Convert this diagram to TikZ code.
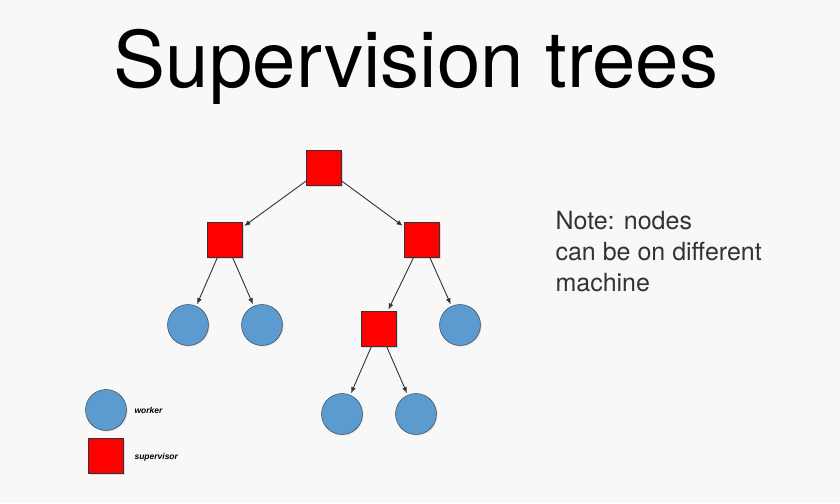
\documentclass[tikz,border=0pt]{standalone}
\usepackage{fontspec}
\setmainfont{TeX Gyre Heros}
\newfontfamily\legendfont{Liberation Sans}
\usepackage{xcolor}
\usetikzlibrary{shadows,arrows.meta}
\definecolor{bgcol}{HTML}{F8F8F8}
\definecolor{supred}{HTML}{FF0000}
\definecolor{workblue}{HTML}{5B9BD0}
\definecolor{notegray}{HTML}{333333}

\begin{document}
\begin{tikzpicture}[x=1pt,y=-1pt,
  sup/.style={draw=black!80,fill=supred,minimum size=35pt,inner sep=0pt,
    drop shadow={opacity=0.25,shadow xshift=1pt,shadow yshift=-1pt}},
  wrk/.style={circle,draw=black!80,fill=workblue,minimum size=41pt,inner sep=0pt,
    drop shadow={opacity=0.25,shadow xshift=1pt,shadow yshift=-1pt}},
  link/.style={-{Latex[length=6pt,width=5pt]},black!80,line width=0.9pt,shorten >=2pt}]
\fill[bgcol] (0,0) rectangle (840,503);
\useasboundingbox (0,0) rectangle (840,503);
\node[anchor=base,font=\fontsize{78}{90}\selectfont] (title) at (416,88) {Supervision trees};
% the tree
\node[sup] (root) at (324,168) {};
\node[sup] (supl) at (225,240) {};
\node[sup] (supr) at (422,240) {};
\node[wrk] (w1) at (188,325) {};
\node[wrk] (w2) at (262,325) {};
\node[sup] (supm) at (379,329) {};
\node[wrk] (w3) at (460,325) {};
\node[wrk] (w4) at (342,414) {};
\node[wrk] (w5) at (416,414) {};
\draw[link] (root) -- (supl);
\draw[link] (root) -- (supr);
\draw[link] (supl) -- (w1);
\draw[link] (supl) -- (w2);
\draw[link] (supr) -- (supm);
\draw[link] (supr) -- (w3);
\draw[link] (supm) -- (w4);
\draw[link] (supm) -- (w5);
% note
\node[anchor=north west,align=left,text=notegray,font=\fontsize{25}{31}\selectfont] (note) at (552,208)
  {Note: nodes\\can be on different\\machine};
% legend
\node[wrk] (lgw) at (106,410) {};
\node[sup] (lgs) at (106,456) {};
\node[anchor=west,font=\legendfont\fontsize{8.5}{9}\selectfont\bfseries\itshape] (lgwt) at (131,410) {worker};
\node[anchor=west,font=\legendfont\fontsize{8.5}{9}\selectfont\bfseries\itshape] (lgst) at (131,457) {supervisor};
\end{tikzpicture}
\end{document}
